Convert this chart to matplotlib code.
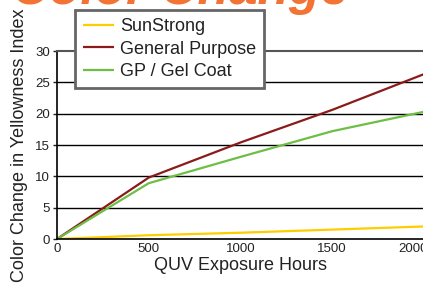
import matplotlib.pyplot as plt
from matplotlib.transforms import ScaledTranslation

plt.rcParams['font.family'] = ['Liberation Sans', 'DejaVu Sans']

# data
hours = [0, 500, 1000, 1500, 2000]
sunstrong = [0, 0.6, 1.0, 1.5, 2.0]
general_purpose = [0, 9.8, 15.4, 20.6, 26.3]
gp_gel_coat = [0, 8.9, 13.1, 17.2, 20.3]

series_names = ['SunStrong', 'General Purpose', 'GP / Gel Coat']
series_colors = ['#FFCC00', '#8B1A1A', '#6DBE45']
x_ticks = [0, 500, 1000, 1500, 2000]
y_ticks = [0, 5, 10, 15, 20, 25, 30]

fig = plt.figure(figsize=(4.23, 2.83), dpi=100)
ax = fig.add_axes([57 / 423, 1 - 239 / 283, 1 - 57 / 423 + 0.002, (239 - 51) / 283])

for vals, name, col in zip([sunstrong, general_purpose, gp_gel_coat], series_names, series_colors):
    ax.plot(hours, vals, color=col, lw=1.6, label=name, solid_capstyle='butt')

ax.set_xlim(0, 2000)
ax.set_ylim(0, 30)
ax.set_xticks(x_ticks)
ax.set_yticks(y_ticks)
ax.tick_params(labelsize=9.5, colors='#222222', length=3, width=1, pad=2)
ax.tick_params(axis='x', length=0, pad=3)

# the last x label sits a little to the left in the reference
last = ax.get_xticklabels()[-1]
last.set_transform(last.get_transform() + ScaledTranslation(-11 / 100, 0, fig.dpi_scale_trans))

# horizontal grid lines
for y in y_ticks[1:-1]:
    ax.axhline(y, color='black', lw=1, zorder=0)

ax.spines['right'].set_visible(False)
ax.spines['top'].set_color('#555555')
ax.spines['top'].set_linewidth(1.5)
ax.spines['left'].set_linewidth(1.2)
ax.spines['bottom'].set_linewidth(1.2)

ax.set_xlabel('QUV Exposure Hours', fontsize=13, color='#222222', labelpad=1)
ax.set_ylabel('Color Change in Yellowness Index', fontsize=13, color='#222222', labelpad=5)

leg = ax.legend(loc='upper left', bbox_to_anchor=(75 / 423, 1 - 10 / 283),
                bbox_transform=fig.transFigure, borderaxespad=0, fontsize=13,
                fancybox=False, framealpha=1, edgecolor='#666666',
                handlelength=1.7, handletextpad=0.35, borderpad=0.45,
                labelspacing=0.31)
leg.get_frame().set_linewidth(2)
for t in leg.get_texts():
    t.set_color('#222222')

# title, cropped at the top of the image
fig.text(180 / 423, 1 - 4 / 283, 'Color Change', fontsize=37, fontweight='bold',
         fontstyle='italic', color='#F37335', ha='center', va='baseline')

fig.savefig('out.png', dpi=100)
